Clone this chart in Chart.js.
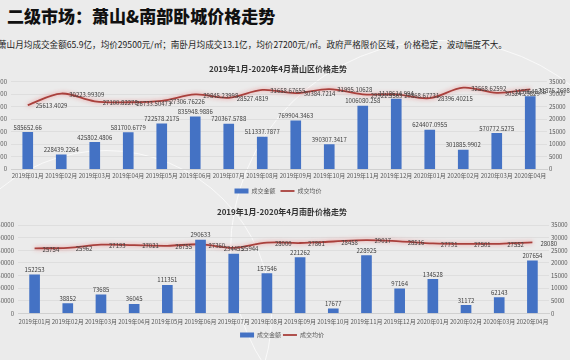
<!DOCTYPE html>
<html>
<head>
<meta charset="utf-8">
<script src="https://cdn.jsdelivr.net/npm/chart.js@4"></script>
<style>
  body { margin: 0; width: 570px; height: 360px; overflow: hidden; position: relative; background: #ebebeb; font-family: "Noto Sans CJK SC", sans-serif; }
  .arco { position: absolute; border: 1px solid rgba(255,255,255,0.7); border-radius: 50%; }
  h1 { position: absolute; left: 7px; top: 3px; margin: 0; font-size: 17px; font-weight: 900; color: #111; }
  .sub { position: absolute; left: -2px; top: 38px; margin: 0; font-size: 8.6px; color: #222; white-space: nowrap; }
  canvas { position: absolute; }
</style>
</head>
<body>
<div class="arco" style="left:230px; top:40px; width:420px; height:420px;"></div>
<div class="arco" style="left:-60px; top:150px; width:330px; height:330px;"></div>
<h1>二级市场：萧山&amp;南部卧城价格走势</h1>
<p class="sub">萧山月均成交金额65.9亿，均价29500元/㎡；南卧月均成交13.1亿，均价27200元/㎡。政府严格限价区域，价格稳定，波动幅度不大。</p>
<canvas id="grafica1" style="left:-40px; top:58px; width:636px; height:146px;" width="636" height="146"></canvas>
<canvas id="grafica2" style="left:-40px; top:198px; width:644px; height:150px;" width="644" height="150"></canvas>
<script>
// Datos
const meses = ['2019年01月', '2019年02月', '2019年03月', '2019年04月', '2019年05月', '2019年06月', '2019年07月', '2019年08月',
  '2019年09月', '2019年10月', '2019年11月', '2019年12月', '2020年01月', '2020年02月', '2020年03月', '2020年04月'];

// 萧山
const montoXS = [585652.66, 228439.2264, 425802.4806, 581700.6779, 722578.2175, 835948.9886, 720367.5788, 511337.7877,
  769904.3463, 390307.3417, 1006080.258, 1118614.994, 624407.0955, 301885.9902, 570772.5275, 1159648.35];
const precioXS = [25613.4029, 30223.99309, 27100.82278, 26733.50473, 27306.76226, 29845.23998, 28527.4819, 31658.67655,
  30384.7214, 31995.10628, 29921.5563, 29868.67731, 28396.40215, 32568.62592, 30524.29829, 31876.2698];

// 南卧
const montoNW = [152253, 38852, 73685, 36045, 111351, 290633, 234455, 157546,
  221262, 17677, 228925, 97164, 134528, 31172, 62143, 207654];
const precioNW = [25754, 25962, 27193, 27021, 26755, 27360, 25944, 28000,
  27861, 28458, 29017, 28516, 27731, 27501, 27552, 28080];

const azul = '#4472c4';
const rojo = '#a9403c';
const fuente = '"Noto Sans CJK SC", sans-serif';

// etiquetas de valores encima de barras y a la derecha de la linea
const etiquetas = {
  id: 'etiquetas',
  beforeDatasetDraw(chart, args) {
    if (chart.data.datasets[args.index].type === 'line') {
      chart.ctx.save();
      chart.ctx.shadowColor = 'rgba(235,130,130,0.9)';
      chart.ctx.shadowBlur = 4;
    }
  },
  afterDatasetDraw(chart, args) {
    if (chart.data.datasets[args.index].type === 'line') chart.ctx.restore();
  },
  afterDatasetsDraw(chart) {
    const ctx = chart.ctx;
    ctx.save();
    ctx.font = '6px ' + fuente;
    ctx.fillStyle = '#404040';
    chart.data.datasets.forEach((ds, i) => {
      const meta = chart.getDatasetMeta(i);
      meta.data.forEach((el, j) => {
        const txt = String(ds.data[j]);
        if (ds.type === 'bar') {
          ctx.textAlign = 'center';
          ctx.textBaseline = 'bottom';
          ctx.fillText(txt, el.x, el.y - 2);
        } else {
          ctx.textAlign = 'left';
          ctx.textBaseline = 'middle';
          ctx.fillText(txt, el.x + 8, el.y + 1);
        }
      });
    });
    ctx.restore();
  }
};

const sinComas = (v) => String(v);

function hacerConfig(titulo, montos, precios, maxIzq, pasoIzq, anchoIzq, anchoDer, tp, xPad, lp) {
  return {
    type: 'bar',
    data: {
      labels: meses,
      datasets: [
        {
          type: 'bar',
          label: '成交金额',
          data: montos,
          backgroundColor: azul,
          barThickness: 10,
          yAxisID: 'y',
          pointStyle: 'rect',
        },
        {
          type: 'line',
          label: '成交均价',
          data: precios,
          borderColor: rojo,
          backgroundColor: rojo,
          borderWidth: 1.8,
          tension: 0.35,
          pointRadius: 0,
          pointStyle: 'line',
          yAxisID: 'y1',
        },
      ],
    },
    options: {
      responsive: false,
      animation: false,
      layout: { padding: 0 },
      plugins: {
        title: {
          display: true,
          text: titulo,
          color: '#333',
          font: { family: fuente, size: 8, weight: 'bold' },
          padding: tp,
        },
        legend: {
          position: 'bottom',
          labels: {
            usePointStyle: true,
            pointStyleWidth: 14,
            boxHeight: 5,
            padding: lp,
            color: '#595959',
            font: { family: fuente, size: 6 },
            sort: (a, b) => a.datasetIndex - b.datasetIndex,
          },
        },
        tooltip: { enabled: false },
      },
      scales: {
        x: {
          grid: { display: false, drawTicks: false },
          border: { color: '#d0d0d0' },
          ticks: { color: '#595959', font: { family: fuente, size: 6 }, padding: xPad, maxRotation: 0, autoSkip: false },
        },
        y: {
          position: 'left',
          min: 0,
          max: maxIzq,
          ticks: { stepSize: pasoIzq, color: '#595959', font: { family: fuente, size: 6 }, padding: 4, callback: sinComas },
          grid: { color: '#d9d9d9', lineWidth: 0.7, drawTicks: false },
          border: { display: false },
          afterFit(scale) { scale.width = anchoIzq; },
        },
        y1: {
          position: 'right',
          min: 0,
          max: 35000,
          ticks: { stepSize: 5000, color: '#595959', font: { family: fuente, size: 6 }, padding: 2, callback: sinComas },
          grid: { display: false, drawTicks: false },
          border: { display: false },
          afterFit(scale) { scale.width = anchoDer; },
        },
      },
    },
    plugins: [etiquetas],
  };
}

const config1 = hacerConfig('2019年1月-2020年4月萧山区价格走势', montoXS, precioXS, 1400000, 200000,
  51, 49, { top: 6, bottom: 8 }, 3.4, 5);
let grafica1 = new Chart(document.querySelector('#grafica1'), config1);

const config2 = hacerConfig('2019年1月-2020年4月南卧价格走势', montoNW, precioNW, 350000, 50000,
  58, 55, { top: 9, bottom: 8.4 }, 4.8, 1.9);
let grafica2 = new Chart(document.querySelector('#grafica2'), config2);
</script>
</body>
</html>
